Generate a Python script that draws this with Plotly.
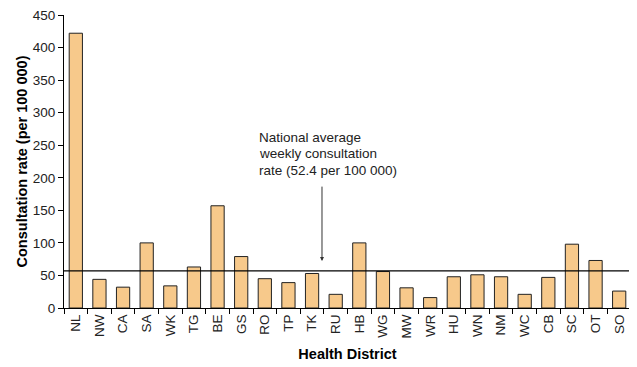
import plotly.graph_objects as go

districts = ["NL", "NW", "CA", "SA", "WK", "TG", "BE", "GS", "RO", "TP", "TK", "RU",
             "HB", "WG", "MW", "WR", "HU", "WN", "NM", "WC", "CB", "SC", "OT", "SO"]
rates = [422, 44, 32, 100, 34, 63, 157, 79, 45, 39, 53, 21,
         100, 56, 31, 16, 48, 51, 48, 21, 47, 98, 73, 26]
national_line = 57
y_ticks = [0, 50, 100, 150, 200, 250, 300, 350, 400, 450]
note_lines = ["National average", "weekly consultation", "rate (52.4 per 100 000)"]

font_family = "Liberation Sans, Arial, sans-serif"

fig = go.Figure()
fig.add_trace(go.Bar(
    x=districts, y=rates,
    marker=dict(color="#F7C98B", line=dict(color="#222222", width=1)),
    width=0.56,
))
fig.add_shape(type="line", xref="paper", yref="y", x0=0, x1=1,
              y0=national_line, y1=national_line,
              line=dict(color="black", width=1.2))
# text lines: centres at screen y 137, 153.5, 170 -> paper coordinates
plot_top, plot_h = 15, 293
for i, line in enumerate(note_lines):
    yc = 137 + i * 16.5
    fig.add_annotation(
        xref="paper", yref="paper", x=0.341, y=(plot_top + plot_h - yc) / plot_h,
        xanchor="left", yanchor="middle",
        text=line, showarrow=False, align="left",
        font=dict(family=font_family, size=13.5, color="#222222"),
    )
fig.add_annotation(
    xref="paper", yref="y", x=0.455, y=72, ax=0, ay=-76,
    axref="pixel", ayref="pixel", text="", showarrow=True,
    arrowhead=2, arrowsize=0.8, arrowwidth=1, arrowcolor="#333333",
)
fig.update_layout(
    width=629, height=359,
    margin=dict(l=56, r=6, t=7, b=59, autoexpand=False),
    plot_bgcolor="white", paper_bgcolor="white",
    showlegend=False,
    font=dict(family=font_family, color="#222222"),
    xaxis=dict(
        title=dict(text="<b>Health District</b>", font=dict(size=14.5, color="black"), standoff=11),
        tickangle=-90, tickfont=dict(size=13.5), automargin=False,
        showline=True, linecolor="black", linewidth=1,
        ticks="outside", ticklen=5, tickcolor="black", tickson="boundaries",
        showgrid=False, range=[-0.5, len(districts) - 0.5],
    ),
    yaxis=dict(
        title=dict(text="<b>Consultation rate (per 100 000)</b>", font=dict(size=14.5, color="black"), standoff=1),
        range=[0, 450], tickvals=y_ticks, tickfont=dict(size=13.5), automargin=False,
        ticklabeloverflow="allow",
        showline=True, linecolor="black", linewidth=1,
        ticks="outside", ticklen=5, tickcolor="black",
        showgrid=False, zeroline=False,
    ),
)
fig.write_html("out.html")
